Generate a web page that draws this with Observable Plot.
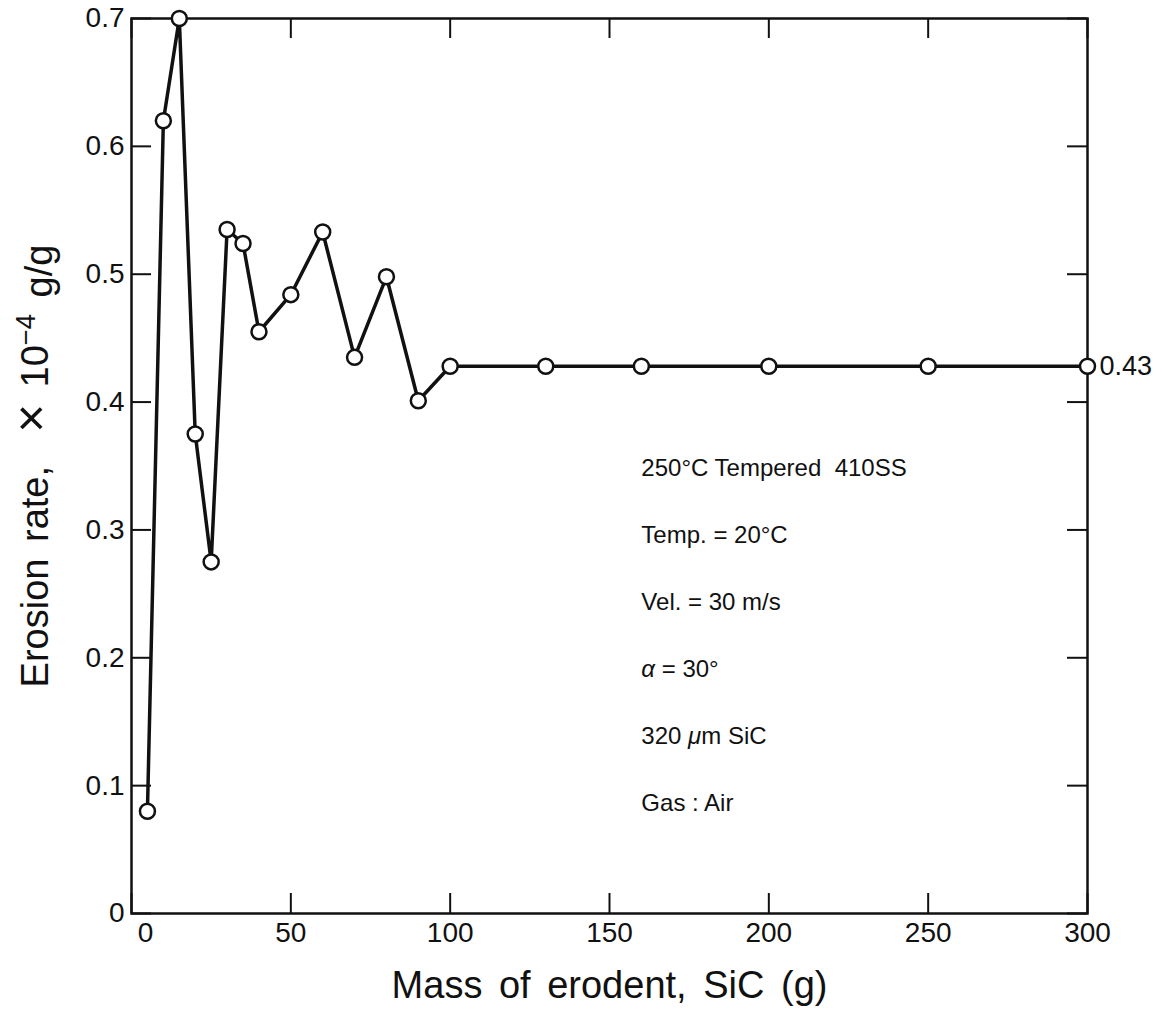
<!DOCTYPE html>
<html><head><meta charset="utf-8">
<script src="https://cdn.jsdelivr.net/npm/d3@7"></script>
<script src="https://cdn.jsdelivr.net/npm/@observablehq/plot@0.6"></script>
<style>
body{margin:0;background:#fff;}
svg{display:block;}
</style>
</head><body><div id="chart"></div>
<script>
// ---- data ----
const massSiC = [5, 10, 15, 20, 25, 30, 35, 40, 50, 60, 70, 80, 90, 100, 130, 160, 200, 250, 300];
const erosionRate = [0.08, 0.62, 0.70, 0.375, 0.275, 0.535, 0.524, 0.455, 0.484, 0.533, 0.435, 0.498, 0.401, 0.428, 0.428, 0.428, 0.428, 0.428, 0.428];
const xTicks = [0, 50, 100, 150, 200, 250, 300];
const yTicks = [0, 0.1, 0.2, 0.3, 0.4, 0.5, 0.6, 0.7];
const xTitle = "Mass of erodent, SiC (g)";
const yTitle = "Erosion rate, \u00D7 10\u22124 g/g";
const conditions = ["250°C Tempered  410SS", "Temp. = 20°C", "Vel. = 30 m/s", "α = 30°", "320 μm SiC", "Gas : Air"];

const data = massSiC.map((x, i) => ({x, y: erosionRate[i]}));
const last = data[data.length - 1];

const W = 1170, H = 1020;
const mL = 131, mR = 83, mT = 18, mB = 107;
const plotW = W - mL - mR, plotH = H - mT - mB;
const tick = 20;
const font = "'Liberation Sans', Arial, Helvetica, sans-serif";

const chart = Plot.plot({
  width: W, height: H,
  marginLeft: mL, marginRight: mR, marginTop: mT, marginBottom: mB,
  style: {fontFamily: font, color: "#111", background: "#fff"},
  x: {domain: [0, 300], label: null},
  y: {domain: [0, 0.7], label: null},
  marks: [
    // inward ticks on all four sides
    Plot.ruleX(xTicks, {x: d => d, insetTop: plotH - tick, stroke: "#111", strokeWidth: 2}),
    Plot.ruleX(xTicks, {x: d => d, insetBottom: plotH - tick, stroke: "#111", strokeWidth: 2}),
    Plot.ruleY(yTicks, {y: d => d, insetRight: plotW - tick, stroke: "#111", strokeWidth: 2}),
    Plot.ruleY(yTicks, {y: d => d, insetLeft: plotW - tick, stroke: "#111", strokeWidth: 2}),
    Plot.frame({stroke: "#111", strokeWidth: 2.5}),
    Plot.axisX(xTicks.filter(d => d !== 0), {tickSize: 0, tickPadding: 9, fontSize: 28, tickFormat: d => String(d)}),
    Plot.axisX([0], {tickSize: 0, tickPadding: 9, fontSize: 28, dx: 14, tickFormat: d => String(d)}),
    Plot.axisY(yTicks, {tickSize: 0, tickPadding: 7, fontSize: 28, tickFormat: d => d === 0 ? "0" : d.toFixed(1)}),
    Plot.line(data, {x: "x", y: "y", stroke: "#111", strokeWidth: 3.5}),
    Plot.dot(data, {x: "x", y: "y", r: 7.5, fill: "white", stroke: "#111", strokeWidth: 2.5}),
    Plot.text([last], {x: "x", y: "y", text: d => d3.format(".2f")(d.y), textAnchor: "start", dx: 12, fontSize: 27}),
    Plot.text(conditions, {x: () => 160, y: (d, i) => 0.348 - i * 0.0524, text: d => d, textAnchor: "start", fontSize: 24}),
    Plot.text([xTitle], {frameAnchor: "bottom", textAnchor: "middle", dy: 84, fontSize: 38, text: d => d}),
    Plot.text([yTitle], {frameAnchor: "left", textAnchor: "middle", dx: -96, rotate: -90, fontSize: 38, text: d => d})
  ]
});

// rich text fixes: superscript exponent, italic Greek letters, wide word spacing in titles
d3.select(chart).selectAll("text").each(function() {
  const el = d3.select(this);
  const t = this.textContent;
  if (t === yTitle) {
    el.text(null).style("word-spacing", "6px");
    el.append("tspan").text("Erosion rate,  ");
    el.append("tspan").attr("font-size", "1.3em").text("\u00D7");
    el.append("tspan").text(" 10");
    el.append("tspan").attr("dy", "-0.45em").attr("font-size", "0.72em").text("\u22124");
    el.append("tspan").attr("dy", "0.45em").text(" g/g");
  } else if (t === xTitle) {
    el.style("word-spacing", "6px");
  } else if (t.includes("α") || t.includes("μ")) {
    const parts = t.split(/([αμ])/);
    el.text(null);
    parts.forEach(p => {
      if (!p) return;
      const s = el.append("tspan").text(p);
      if (p === "α" || p === "μ") s.attr("font-style", "italic");
    });
  }
});

document.getElementById("chart").appendChild(chart);
</script>
</body></html>
